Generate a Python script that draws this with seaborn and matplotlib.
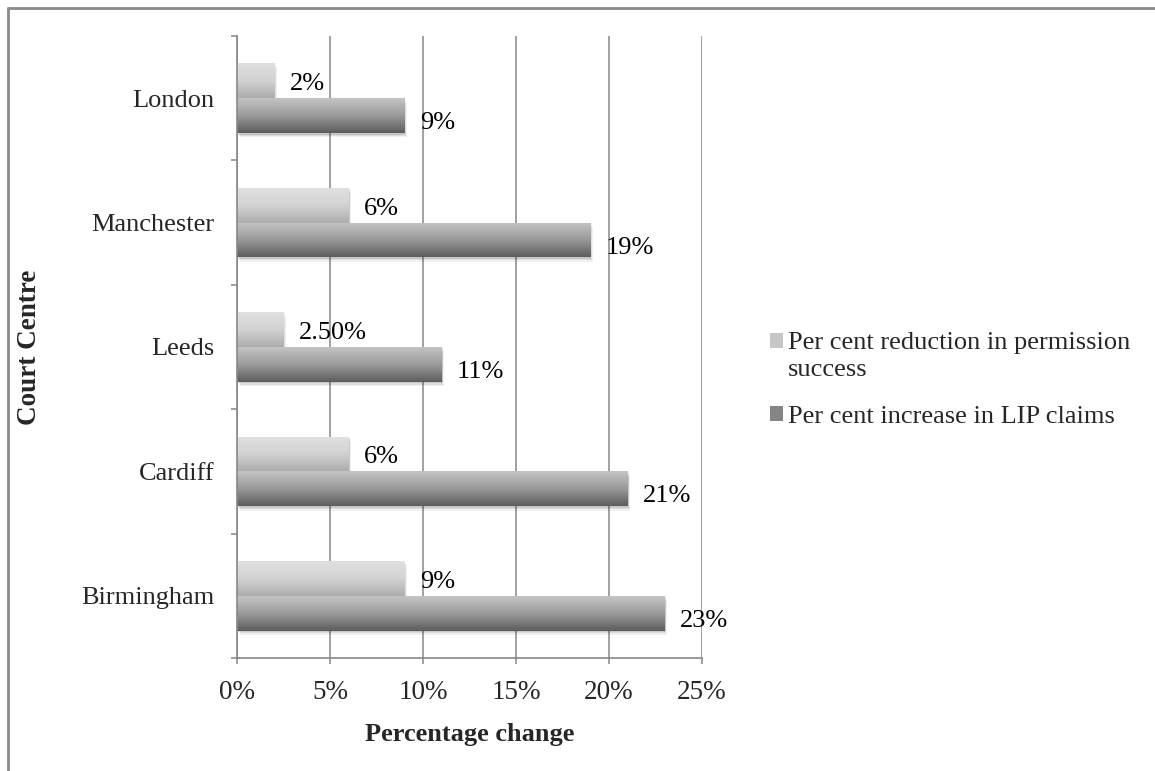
import numpy as np
import pandas as pd
import matplotlib
matplotlib.use("Agg")
import matplotlib.pyplot as plt
import seaborn as sns
from matplotlib.patches import Rectangle, Patch
from matplotlib.lines import Line2D
from matplotlib.ticker import PercentFormatter, FixedLocator
from matplotlib.colors import LinearSegmentedColormap
from matplotlib.legend_handler import HandlerPatch

# ---- data ----
courts = ["London", "Manchester", "Leeds", "Cardiff", "Birmingham"]
reduction = [2, 6, 2.5, 6, 9]
increase = [9, 19, 11, 21, 23]
reduction_labels = ["2%", "6%", "2.50%", "6%", "9%"]
increase_labels = ["9%", "19%", "11%", "21%", "23%"]
series_names = ["Per cent reduction in permission\nsuccess",
                "Per cent increase in LIP claims"]
x_ticks = [0, 5, 10, 15, 20, 25]

sns.set_style("white")
plt.rcParams["font.family"] = ["Liberation Serif", "DejaVu Serif"]

df = pd.DataFrame({
    "Court": courts * 2,
    "Value": reduction + increase,
    "Series": [series_names[0]] * len(courts) + [series_names[1]] * len(courts),
})

W, H = 1155, 771
fig = plt.figure(figsize=(W / 100, H / 100), dpi=100)
ax = fig.add_axes([237 / W, 1 - 658 / H, 465 / W, 622 / H])

sns.barplot(data=df, x="Value", y="Court", hue="Series", order=courts,
            hue_order=series_names, palette=["#c8c8c8", "#8c8c8c"],
            width=0.56, orient="h", ax=ax, linewidth=0, saturation=1,
            legend=False)

ax.set_xlim(0, 25)
ax.set_ylim(4.5, -0.5)

grads = [
    LinearSegmentedColormap.from_list("light", ["#e0e0e0", "#d2d2d2", "#acacac"]),
    LinearSegmentedColormap.from_list("dark", ["#c4c4c4", "#9a9a9a", "#5c5c5c"]),
]
gvals = np.linspace(0, 1, 256).reshape(-1, 1)
for i, cont in enumerate(ax.containers[:2]):
    for p in cont.patches:
        x0, y0, w, h = p.get_x(), p.get_y(), p.get_width(), p.get_height()
        for dx, dy, a in [(0.14, 0.035, 0.06), (0.09, 0.022, 0.08), (0.05, 0.012, 0.10)]:
            ax.add_patch(Rectangle((x0 + dx, y0 + dy), w, h, facecolor="black",
                                   alpha=a, linewidth=0, zorder=p.get_zorder() - 0.1))
        im = ax.imshow(gvals, cmap=grads[i], extent=[x0, x0 + w, y0 + h, y0],
                       origin="upper", aspect="auto", zorder=p.get_zorder() + 0.01)
        im.set_clip_path(p)

ax.set_xlim(0, 25)
ax.set_ylim(4.5, -0.5)
ax.set_aspect("auto")

for cont, labs, dy in zip(ax.containers[:2], [reduction_labels, increase_labels], [-2.5, -5.5]):
    anns = ax.bar_label(cont, labels=labs, padding=11, fontsize=19, color="black")
    for a in anns:
        a.xyann = (11, dy)

# axes styling
gray = "#878787"
for s in ["top", "right"]:
    ax.spines[s].set_visible(False)
for s in ["left", "bottom"]:
    ax.spines[s].set_color(gray)
    ax.spines[s].set_linewidth(1.2)

ax.set_axisbelow(True)
ax.xaxis.set_major_locator(FixedLocator(x_ticks))
ax.xaxis.set_major_formatter(PercentFormatter(xmax=100, decimals=0))
ax.grid(axis="x", color=gray, linewidth=1.1)
ax.grid(axis="y", visible=False)

ax.tick_params(axis="x", which="major", direction="out", length=4, width=1.1,
               color=gray, labelsize=19.5, pad=11.5, bottom=True)
ax.tick_params(axis="y", which="major", length=0, labelsize=19, pad=16)
ax.yaxis.set_minor_locator(FixedLocator(np.arange(-0.5, len(courts), 1.0)))
ax.tick_params(axis="y", which="minor", direction="out", length=4, width=1.1,
               color=gray, left=True)

ax.set_xlabel("Percentage change", fontsize=19, fontweight="bold", labelpad=13)
ax.set_ylabel("Court Centre", fontsize=19.5, fontweight="bold")
ax.yaxis.set_label_coords(-0.42, 0.5)


def make_handler(shift):
    def patch_func(legend, orig_handle, xdescent, ydescent, width, height, fontsize):
        return Rectangle((-xdescent, -ydescent + shift), width, height)
    return HandlerPatch(patch_func=patch_func)


handles = [Patch(facecolor="#c6c6c6", edgecolor="none"),
           Patch(facecolor="#858585", edgecolor="none")]
leg = fig.legend(handles, series_names, loc="center left",
                 bbox_to_anchor=(770 / W, 1 - 380 / H), frameon=False, fontsize=19,
                 handlelength=0.5, handleheight=0.5, handletextpad=0.18,
                 labelspacing=0.95, borderaxespad=0, borderpad=0,
                 handler_map={handles[0]: make_handler(11), handles[1]: make_handler(0)})
for t in leg.get_texts():
    t.set_linespacing(1.3)

# outer chart border (top and left visible)
fig.add_artist(Line2D([7.5 / W, 7.5 / W], [0, 1 - 7.5 / H], transform=fig.transFigure,
                      color="#8a8a8a", linewidth=2))
fig.add_artist(Line2D([7.5 / W, 1], [1 - 7.5 / H, 1 - 7.5 / H], transform=fig.transFigure,
                      color="#8a8a8a", linewidth=2))

fig.savefig("out.png", dpi=100, facecolor="white")
